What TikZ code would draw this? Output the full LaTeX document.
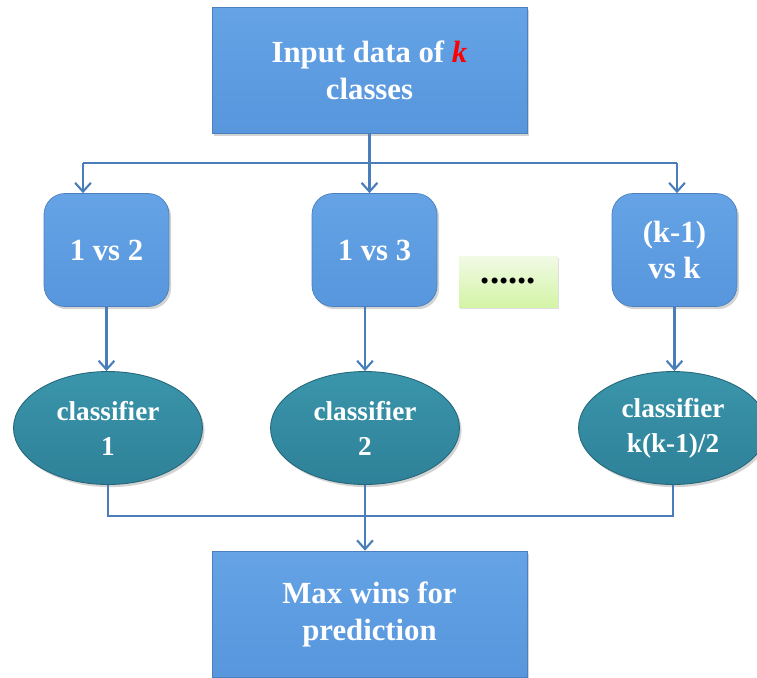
\documentclass[tikz,border=0pt]{standalone}
\usepackage{xcolor}
\usepackage{fontspec}
\setmainfont{Liberation Serif}
\usetikzlibrary{shapes.geometric, arrows.meta, shadows}
\definecolor{boxblue}{HTML}{5896DD}
\definecolor{boxtop}{HTML}{65A3E6}
\definecolor{tealfill}{HTML}{2E8198}
\definecolor{tealtop}{HTML}{3A95AB}
\definecolor{linkblue}{HTML}{4A7EBB}
\definecolor{dotstop}{HTML}{F1FAE6}
\definecolor{dotsbot}{HTML}{D4F4A6}
\tikzstyle{stage} = [rectangle, minimum width=6.3cm, minimum height=2.52cm, align=center, text=white, font=\bfseries\fontsize{17.5}{21}\selectfont, draw=boxblue!85!black, line width=0.4pt, top color=boxtop, bottom color=boxblue, drop shadow={shadow xshift=1.2pt, shadow yshift=-1.5pt, opacity=0.35}]
\tikzstyle{pairbox} = [rectangle, rounded corners=0.42cm, minimum width=2.5cm, minimum height=2.26cm, align=center, text=white, font=\bfseries\fontsize{17.5}{21}\selectfont, draw=boxblue!85!black, line width=0.4pt, top color=boxtop, bottom color=boxblue, drop shadow={shadow xshift=1.2pt, shadow yshift=-1.5pt, opacity=0.35}]
\tikzstyle{classifier} = [ellipse, minimum width=3.78cm, minimum height=2.26cm, align=center, text=white, font=\bfseries\fontsize{15.5}{20}\selectfont, draw=tealfill!80!black, line width=0.5pt, top color=tealtop, bottom color=tealfill, drop shadow={shadow xshift=1.2pt, shadow yshift=-1.5pt, opacity=0.35}]
\tikzstyle{dotsbox} = [rectangle, minimum width=1.98cm, minimum height=1.02cm, font=\bfseries\fontsize{21}{22}\selectfont, top color=dotstop, bottom color=dotsbot, drop shadow={shadow xshift=0.8pt, shadow yshift=-1pt, opacity=0.25}]
\tikzstyle{link} = [draw=linkblue, line width=1.3pt]
\tikzstyle{arrow} = [link, -{Straight Barb[length=5pt, width=9pt, line width=1.2pt]}]

\begin{document}
\begin{tikzpicture}[x=0.02cm, y=-0.02cm]
    \useasboundingbox (0,0) rectangle (757,677);
    % Input and pairwise subsets
    \node[stage] (input) at (369.5,70) {Input data of \textcolor{red}{\textit{k}}\\classes};
    \node[pairbox] (p12) at (106.5,250) {1 vs 2};
    \node[pairbox] (p13) at (374.5,250) {1 vs 3};
    \node[dotsbox] (dots) at (508.5,281.5) {......};
    \node[pairbox] (pk) at (674.5,250) {(k-1)\\vs k};

    % Binary classifiers
    \node[classifier] (c1) at (108,428) {classifier\\1};
    \node[classifier] (c2) at (365,428) {classifier\\2};
    \node[classifier] (c3) at (673,428) {classifier\\k(k-1)/2};

    % Voting
    \node[stage] (result) at (369.5,614) {Max wins for\\prediction};

    % Connections
    \coordinate (busL) at (83,163);
    \coordinate (busR) at (677,163);
    \coordinate (merge) at (363,516);
    \draw[link] (busL) -- (busR);
    \draw[arrow] (input.south) -- (input.south |- p13.north);
    \draw[arrow] (busL) -- (busL |- p12.north);
    \draw[arrow] (busR) -- (busR |- pk.north);
    \draw[arrow] (p12.south) -- (p12.south |- c1.north);
    \draw[arrow] (c2.north |- p13.south) -- (c2.north);
    \draw[arrow] (pk.south) -- (pk.south |- c3.north);
    \draw[link] (c1.south) |- (merge) -| (c3.south);
    \draw[arrow] (c2.south) -- (c2.south |- result.north);
\end{tikzpicture}
\end{document}
